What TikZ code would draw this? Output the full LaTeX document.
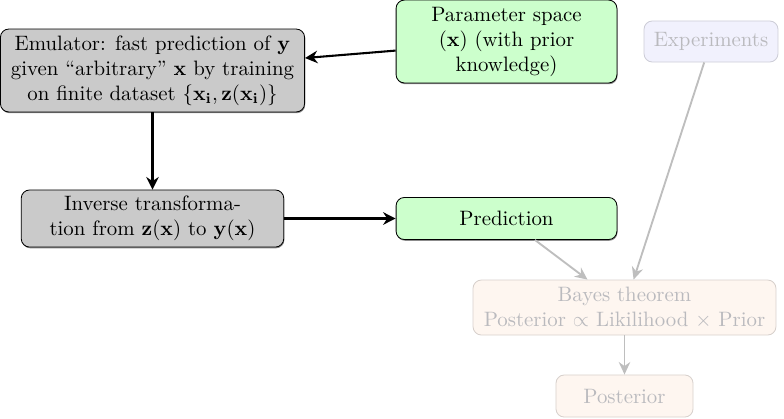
\documentclass[tikz,border=0pt]{standalone}
\usetikzlibrary{arrows.meta,shadows}
\definecolor{boxgray}{RGB}{202,202,202}
\definecolor{boxgreen}{RGB}{204,255,204}
\definecolor{fadeblue}{RGB}{241,241,253}
\definecolor{fadeorange}{RGB}{254,246,240}
\definecolor{fadetext}{RGB}{186,186,190}
\definecolor{fadedraw}{RGB}{205,205,215}
\definecolor{fadedrawo}{RGB}{215,208,204}
\definecolor{fadearrow}{RGB}{190,190,190}
\tikzset{
  basebox/.style={rounded corners=4pt, align=center, inner sep=2pt, font=\normalsize},
  softshadow/.style={drop shadow={shadow xshift=0.3pt, shadow yshift=-0.6pt, opacity=0.45, fill=black}},
  graybox/.style={basebox, draw=black, fill=boxgray, softshadow},
  greenbox/.style={basebox, draw=black, fill=boxgreen, softshadow},
  fadebluebox/.style={basebox, draw=fadedraw, fill=fadeblue, text=fadetext},
  fadeorangebox/.style={basebox, draw=fadedrawo, fill=fadeorange, text=fadetext},
  mainarrow/.style={-{Stealth[length=6pt,width=6pt]}, line width=1pt, black},
  fadearrowstyle/.style={-{Stealth[length=6pt,width=5.5pt]}, line width=0.9pt, fadearrow},
}
\begin{document}
\begin{tikzpicture}[x=0.48pt,y=-0.48pt]
\useasboundingbox (0,0) rectangle (784,418);
\node[graybox, minimum width=146pt, minimum height=39.8pt] (emu) at (152.5,70.5)
  {Emulator: fast prediction of $\mathbf{y}$\\ given ``arbitrary'' $\mathbf{x}$ by training\\ on finite dataset $\{\mathbf{x_i, z(x_i)}\}$};
\node[greenbox, minimum width=106pt, minimum height=39.8pt] (param) at (506.5,41.5)
  {Parameter space\\ $\mathbf{(x)}$ (with prior\\ knowledge)};
\node[fadebluebox, minimum width=64.3pt, minimum height=19.7pt] (exp) at (711,41.5) {Experiments};
\node[graybox, minimum width=126pt, minimum height=27.4pt] (inv) at (152.5,218.5)
  {Inverse transforma-\\ tion from $\mathbf{z(x)}$ to $\mathbf{y(x)}$};
\node[greenbox, minimum width=106pt, minimum height=20.2pt] (pred) at (506.5,218.5) {Prediction};
\node[fadeorangebox, minimum width=145.4pt, minimum height=26.4pt] (bayes) at (624.5,307.5)
  {Bayes theorem\\ Posterior $\propto$ Likilihood $\times$ Prior};
\node[fadeorangebox, minimum width=65.8pt, minimum height=20.2pt] (post) at (624.5,396) {Posterior};
\draw[mainarrow] (param) -- (emu);
\draw[mainarrow] (emu) -- (inv);
\draw[mainarrow] (inv) -- (pred);
\draw[fadearrowstyle] (pred) -- (bayes);
\draw[fadearrowstyle] (exp) -- (bayes);
\draw[fadearrowstyle] (bayes) -- (post);
\end{tikzpicture}
\end{document}
